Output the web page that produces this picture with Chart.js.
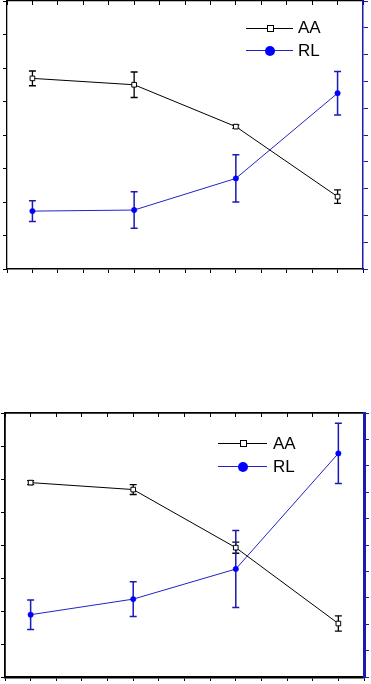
<!DOCTYPE html>
<html>
<head>
<meta charset="utf-8">
<script src="https://cdn.jsdelivr.net/npm/chart.js@4/dist/chart.umd.min.js"></script>
<style>
  html, body { margin: 0; padding: 0; background: #fff; width: 371px; height: 684px; overflow: hidden; }
  .wrap { position: absolute; left: 0; width: 371px; }
  canvas { position: absolute; left: 0; top: 0; }
  .leg { position: absolute; font-family: "Liberation Sans", Arial, sans-serif; font-size: 17px; line-height: 20px; color: #000; }
  .lline { position: absolute; height: 1px; }
  .lmark { position: absolute; box-sizing: border-box; }
</style>
</head>
<body>
<div class="wrap" id="w1" style="top:0px;height:280px;"><canvas id="c1" width="371" height="280"></canvas></div>
<div class="wrap" id="w2" style="top:400px;height:284px;"><canvas id="c2" width="371" height="284"></canvas></div>
<script>
// ---- data ----
const xValues = [1, 2, 3, 4];
const seriesNames = ['AA', 'RL'];

const aaTop    = [5.69, 5.50, 4.25, 2.16];
const aaTopErr = [0.22, 0.38, 0.05, 0.20];
const rlTop    = [2.16, 2.20, 3.38, 6.56];
const rlTopErr = [0.39, 0.68, 0.88, 0.81];

const aaBottom    = [5.89, 5.68, 3.92, 1.62];
const aaBottomErr = [0.06, 0.15, 0.17, 0.23];
const rlBottom    = [2.36, 2.95, 4.09, 8.47];
const rlBottomErr = [0.56, 0.66, 1.46, 1.14];

const leftRange = [0, 8];
const rightRange = [0, 10];
const xRange = [0.75, 4.25];

// ---- styles ----
const BLACK = '#000000';
const BLUE_LINE = '#2222c8';
const BLUE_MARK = '#0000ff';
const BLUE_AXIS = '#1a1ab4';

const errorBarPlugin = {
  id: 'errorBars',
  beforeDatasetsDraw(chart) {
    const ctx = chart.ctx;
    chart.data.datasets.forEach((ds, i) => {
      if (!ds.errors) return;
      const xs = chart.scales[ds.xAxisID || 'x'];
      const ys = chart.scales[ds.yAxisID];
      ctx.save();
      ctx.strokeStyle = ds.errColor;
      ctx.lineWidth = ds.errWidth;
      ds.data.forEach((p, j) => {
        const e = ds.errors[j];
        const px = xs.getPixelForValue(p.x);
        const y1 = ys.getPixelForValue(p.y + e);
        const y2 = ys.getPixelForValue(p.y - e);
        ctx.beginPath();
        ctx.moveTo(px, y1); ctx.lineTo(px, y2);
        ctx.moveTo(px - 3.5, y1); ctx.lineTo(px + 3.5, y1);
        ctx.moveTo(px - 3.5, y2); ctx.lineTo(px + 3.5, y2);
        ctx.stroke();
      });
      ctx.restore();
    });
  }
};

function pts(vals) { return xValues.map((x, i) => ({ x: x, y: vals[i] })); }

function makeChart(id, aa, aaErr, rl, rlErr, pad, axisW) {
  const zeroW = s => { s.width = 0; };
  const zeroH = s => { s.height = 0; };
  return new Chart(document.getElementById(id), {
    type: 'line',
    data: {
      datasets: [
        {
          label: seriesNames[0], data: pts(aa), errors: aaErr, yAxisID: 'y',
          borderColor: BLACK, borderWidth: 1, backgroundColor: '#fff',
          pointStyle: 'rect', pointRadius: 3.3, pointBorderColor: BLACK, pointBackgroundColor: '#fff',
          pointBorderWidth: 1, errColor: BLACK, errWidth: 1.3, tension: 0
        },
        {
          label: seriesNames[1], data: pts(rl), errors: rlErr, yAxisID: 'y2',
          borderColor: BLUE_LINE, borderWidth: 1, backgroundColor: BLUE_MARK,
          pointStyle: 'circle', pointRadius: 2.7, pointBorderColor: BLUE_MARK, pointBackgroundColor: BLUE_MARK,
          pointBorderWidth: 0.5, errColor: BLUE_AXIS, errWidth: 1.5, tension: 0
        }
      ]
    },
    options: {
      responsive: false,
      animation: false,
      devicePixelRatio: 1,
      layout: { autoPadding: false, padding: pad },
      plugins: { legend: { display: false }, tooltip: { enabled: false } },
      scales: {
        x: {
          type: 'linear', position: 'bottom', min: xRange[0], max: xRange[1],
          ticks: { display: false, stepSize: 0.25 },
          grid: { drawOnChartArea: false, drawTicks: true, tickLength: 4, color: BLACK, lineWidth: 1 },
          border: { display: true, color: BLACK, width: axisW.bottom },
          afterFit: zeroH
        },
        x2: {
          type: 'linear', position: 'top', min: xRange[0], max: xRange[1],
          ticks: { display: false, stepSize: 0.25 },
          grid: { drawOnChartArea: false, drawTicks: true, tickLength: -4, color: BLACK, lineWidth: 1 },
          border: { display: true, color: BLACK, width: axisW.top },
          afterFit: zeroH
        },
        y: {
          type: 'linear', position: 'left', min: leftRange[0], max: leftRange[1],
          ticks: { display: false, stepSize: 1 },
          grid: { drawOnChartArea: false, drawTicks: true, tickLength: 4, color: BLACK, lineWidth: 1 },
          border: { display: true, color: BLACK, width: axisW.left },
          afterFit: zeroW
        },
        y2: {
          type: 'linear', position: 'right', min: rightRange[0], max: rightRange[1],
          ticks: { display: false, stepSize: 1 },
          grid: { drawOnChartArea: false, drawTicks: true, tickLength: 5, color: BLUE_AXIS, lineWidth: 1 },
          border: { display: true, color: BLUE_AXIS, width: axisW.right },
          afterFit: zeroW
        }
      }
    },
    plugins: [errorBarPlugin]
  });
}

makeChart('c1', aaTop, aaTopErr, rlTop, rlTopErr,
  { left: 7, right: 8, top: 1, bottom: 11 },
  { left: 1.3, right: 1.5, top: 1.3, bottom: 1.6 });
makeChart('c2', aaBottom, aaBottomErr, rlBottom, rlBottomErr,
  { left: 5, right: 7, top: 13, bottom: 7 },
  { left: 1.8, right: 3, top: 1.8, bottom: 2.5 });

// ---- legends (HTML text) ----
function addLegend(wrapId, x0, x1, markX, textX, rowYs) {
  const w = document.getElementById(wrapId);
  const specs = [
    { name: seriesNames[0], color: BLACK, mark: 'sq' },
    { name: seriesNames[1], color: BLUE_LINE, mark: 'dot' }
  ];
  specs.forEach((s, i) => {
    const y = rowYs[i];
    const ln = document.createElement('div');
    ln.className = 'lline';
    ln.style.cssText = `left:${x0}px;width:${x1 - x0}px;top:${y - 0.5}px;background:${s.color};`;
    w.appendChild(ln);
    const mk = document.createElement('div');
    mk.className = 'lmark';
    if (s.mark === 'sq') {
      mk.style.cssText = `left:${markX - 3.5}px;top:${y - 3.5}px;width:7px;height:7px;border:1px solid #000;background:#fff;`;
    } else {
      mk.style.cssText = `left:${markX - 5}px;top:${y - 5}px;width:10px;height:10px;border-radius:50%;background:${BLUE_MARK};`;
    }
    w.appendChild(mk);
    const t = document.createElement('div');
    t.className = 'leg';
    t.textContent = s.name;
    t.style.left = textX + 'px';
    t.style.top = (y - 10) + 'px';
    w.appendChild(t);
  });
}
addLegend('w1', 246, 293, 270, 298, [28.3, 50.7]);
addLegend('w2', 218, 267, 243, 273, [43.5, 66.7]);
</script>
</body>
</html>
